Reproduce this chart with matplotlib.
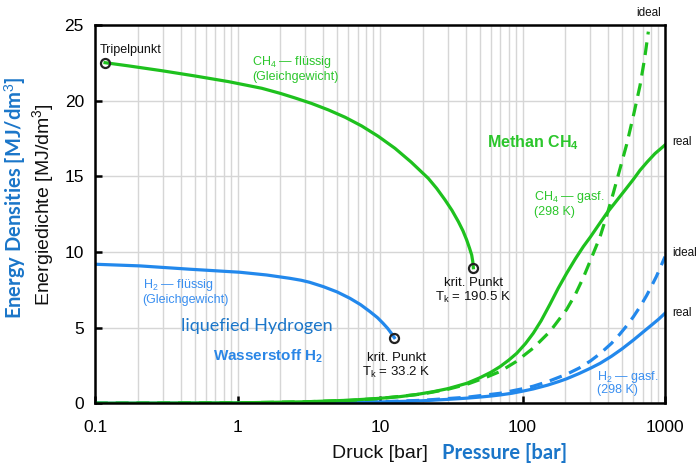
import numpy as np
import matplotlib
matplotlib.use("Agg")
import matplotlib.pyplot as plt

plt.rcParams['font.family'] = ['Liberation Sans', 'DejaVu Sans']
plt.rcParams['mathtext.fontset'] = 'custom'
plt.rcParams['mathtext.rm'] = 'Liberation Sans'
plt.rcParams['mathtext.it'] = 'Liberation Sans:italic'
plt.rcParams['mathtext.bf'] = 'Liberation Sans:bold'

# --- data (pressure in bar, energy density in MJ/dm3) ---
# methane, liquid on the saturation line (triple point -> critical point)
ch4_liq_p = [0.1176, 0.1714, 0.294, 0.504, 0.862, 1.478, 2.0, 2.53, 3.3, 4.34, 5.7, 7.43, 9.7,
             12.74, 16.5, 21.8, 25.0, 28.6, 32.0, 35.5, 38.2, 40.6, 42.5, 44.0, 44.8, 45.2]
ch4_liq_e = [22.51, 22.3, 21.98, 21.63, 21.26, 20.82, 20.48, 20.18, 19.82, 19.39, 18.9, 18.33, 17.65,
             16.85, 15.95, 14.87, 14.2, 13.44, 12.75, 12.0, 11.4, 10.79, 10.25, 9.8, 9.35, 8.96]

# hydrogen, liquid on the saturation line
h2_liq_p = [0.1, 0.207, 0.464, 1.04, 1.6, 2.33, 2.8, 3.2, 4.0, 5.0, 6.15, 7.3, 8.5, 9.6, 10.5,
            11.3, 12.0, 12.6]
h2_liq_e = [9.19, 9.08, 8.86, 8.66, 8.48, 8.26, 8.13, 8.0, 7.71, 7.36, 6.94, 6.52, 6.06, 5.66, 5.29,
            4.96, 4.63, 4.34]

# methane gas at 298 K
ch4_real_p = [0.1, 1, 3, 6, 10, 13.8, 18, 23.7, 30, 40.6, 50, 60, 69.5, 80, 91, 105, 119, 135, 156,
              178, 204, 235, 267, 300, 340, 390, 450, 520, 600, 668, 750, 850, 1000]
ch4_real_e = [0.003, 0.03, 0.1, 0.2, 0.33, 0.44, 0.58, 0.77, 0.97, 1.32, 1.68, 2.05, 2.42, 2.85, 3.3,
              3.95, 4.63, 5.45, 6.55, 7.6, 8.59, 9.55, 10.35, 11.0, 11.75, 12.56, 13.3, 14.05,
              14.8, 15.4, 15.95, 16.5, 17.07]
ch4_ideal_p = [0.1, 1, 3, 6, 10, 20, 30, 40.6, 55, 69.5, 90, 119, 156, 204, 235, 267, 300, 350, 390,
               434, 480, 538, 600, 668, 720, 764]
ch4_ideal_e = [0.003, 0.03, 0.1, 0.19, 0.32, 0.62, 0.93, 1.25, 1.7, 2.1, 2.75, 3.65, 4.75, 6.2, 7.2,
               8.3, 9.45, 11.0, 12.4, 13.9, 15.4, 17.1, 19.0, 21.0, 22.8, 24.56]

# hydrogen gas at 298 K
h2_real_p = [0.1, 1, 3, 6, 10, 13.8, 20, 25, 30, 40.6, 50, 60, 69.5, 85, 100, 119, 150, 180, 204,
             250, 300, 350, 420, 500, 600, 700, 800, 900, 1000]
h2_real_e = [0.001, 0.01, 0.03, 0.06, 0.09, 0.12, 0.17, 0.22, 0.26, 0.34, 0.41, 0.48, 0.55, 0.67, 0.8,
             0.95, 1.2, 1.44, 1.62, 1.97, 2.32, 2.64, 3.1, 3.6, 4.18, 4.7, 5.15, 5.55, 5.95]
h2_ideal_p = [0.1, 1, 10, 20, 40.6, 69.5, 100, 119, 150, 204, 250, 300, 350, 420, 480, 538, 600, 670,
              743, 800, 870, 930, 1000]
h2_ideal_e = [0.001, 0.01, 0.1, 0.2, 0.4, 0.66, 0.96, 1.13, 1.43, 1.92, 2.33, 2.8, 3.28, 3.95, 4.55,
              5.12, 5.72, 6.4, 7.12, 7.7, 8.38, 9.0, 9.69]

GREEN = '#1ec11e'
GREEN_TXT = '#2cc62c'
BLUE = '#2288ec'
BLUE_TXT = '#3a8ff0'
BLUE_DARK = '#1b76c9'

fig = plt.figure(figsize=(6.96, 4.70), dpi=100)
ax = fig.add_axes([95/696, 1-403.3/470, 570/696, 378.3/470])

ax.set_xscale('log')
ax.set_xlim(0.1, 1000)
ax.set_ylim(0, 25)

ax.grid(True, which='both', axis='x', color='#d6d6d6', lw=1.0)
ax.grid(True, which='major', axis='y', color='#d6d6d6', lw=1.0)
ax.set_axisbelow(True)

lw = 2.3
dash = (0, (4, 2.5))
# gas curves
ax.plot(h2_real_p, h2_real_e, color=BLUE, lw=lw)
ax.plot(h2_ideal_p, h2_ideal_e, color=BLUE, lw=lw, ls=dash)
ax.plot(ch4_real_p, ch4_real_e, color=GREEN, lw=lw)
ax.plot(ch4_ideal_p, ch4_ideal_e, color=GREEN, lw=lw, ls=dash)
# liquid curves
ax.plot(h2_liq_p, h2_liq_e, color=BLUE, lw=lw)
ax.plot(ch4_liq_p, ch4_liq_e, color=GREEN, lw=lw)

# triple point and critical points
ax.plot([ch4_liq_p[0], ch4_liq_p[-1], h2_liq_p[-1]],
        [ch4_liq_e[0], ch4_liq_e[-1], h2_liq_e[-1]],
        ls='none', marker='o', ms=6.5, mfc='none', mec='#222222', mew=1.6, zorder=5)

for s in ax.spines.values():
    s.set_linewidth(1.8)
ax.tick_params(which='major', direction='in', length=5, width=1.8, labelsize=12.5)
ax.tick_params(axis='x', which='major', pad=12)
ax.tick_params(axis='y', which='major', pad=8)
ax.tick_params(which='minor', length=0)
ax.set_xticks([0.1, 1, 10, 100, 1000])
ax.set_xticklabels(['0.1', '1', '10', '100', '1000'])
ax.set_yticks([0, 5, 10, 15, 20, 25])

# annotations
ax.text(0.108, 23.35, 'Tripelpunkt', fontsize=9, color='#111111', va='center')
ax.text(1.26, 22.55, 'CH$_4$ — flüssig', fontsize=9, color=GREEN_TXT, va='center')
ax.text(1.26, 21.56, '(Gleichgewicht)', fontsize=9, color=GREEN_TXT, va='center')
ax.text(56, 17.25, r'Methan CH$_\mathbf{4}$', fontsize=11.5, fontweight='bold', color=GREEN_TXT, va='center')
ax.text(121, 13.65, 'CH$_4$ — gasf.', fontsize=9, color=GREEN_TXT, va='center')
ax.text(121, 12.62, '(298 K)', fontsize=9, color=GREEN_TXT, va='center')

ax.text(45.2, 7.98, 'krit. Punkt', fontsize=9.5, color='#111111', ha='center', va='center')
ax.text(45.2, 6.98, r'T$_\mathrm{k}$ = 190.5 K', fontsize=9.5, color='#111111', ha='center', va='center')
ax.text(13.1, 3.02, 'krit. Punkt', fontsize=9.5, color='#111111', ha='center', va='center')
ax.text(13.1, 2.06, r'T$_\mathrm{k}$ = 33.2 K', fontsize=9.5, color='#111111', ha='center', va='center')

ax.text(0.216, 7.8, 'H$_2$ — flüssig', fontsize=9, color=BLUE_TXT, va='center')
ax.text(0.216, 6.82, '(Gleichgewicht)', fontsize=9, color=BLUE_TXT, va='center')
ax.text(0.399, 5.12, 'liquefied Hydrogen', fontsize=13, family=['Lato', 'DejaVu Sans'],
        color=BLUE_DARK, va='center')
ax.text(0.676, 3.1, r'Wasserstoff H$_\mathbf{2}$', fontsize=11, fontweight='bold', color='#2a86e6', va='center')
ax.text(335, 1.75, 'H$_2$ — gasf.', fontsize=9, color=BLUE_TXT, va='center')
ax.text(335, 0.86, '(298 K)', fontsize=9, color=BLUE_TXT, va='center')

ax.text(773, 25.8, 'ideal', fontsize=8.5, color='#111111', ha='center', va='center', clip_on=False)
ax.text(1125, 17.25, 'real', fontsize=8.5, color='#111111', va='center', clip_on=False)
ax.text(1125, 9.95, 'ideal', fontsize=8.5, color='#111111', va='center', clip_on=False)
ax.text(1125, 5.98, 'real', fontsize=8.5, color='#111111', va='center', clip_on=False)

# axis titles (German / English)
fig.text(15/696, 1-198/470, 'Energy Densities [MJ/dm$^3$]', rotation=90, fontsize=14.5,
         fontweight='bold', family=['Lato', 'DejaVu Sans'], color=BLUE_DARK, ha='center', va='center')
fig.text(43/696, 1-205/470, 'Energiedichte [MJ/dm$^3$]', rotation=90, fontsize=14,
         color='#111111', ha='center', va='center')
fig.text(380/696, 1-453/470, 'Druck [bar]', fontsize=14, color='#111111', ha='center', va='center')
fig.text(505/696, 1-453/470, 'Pressure [bar]', fontsize=14.5, fontweight='bold',
         family=['Lato', 'DejaVu Sans'], color=BLUE_DARK, ha='center', va='center')

fig.savefig('out.png', dpi=100)
